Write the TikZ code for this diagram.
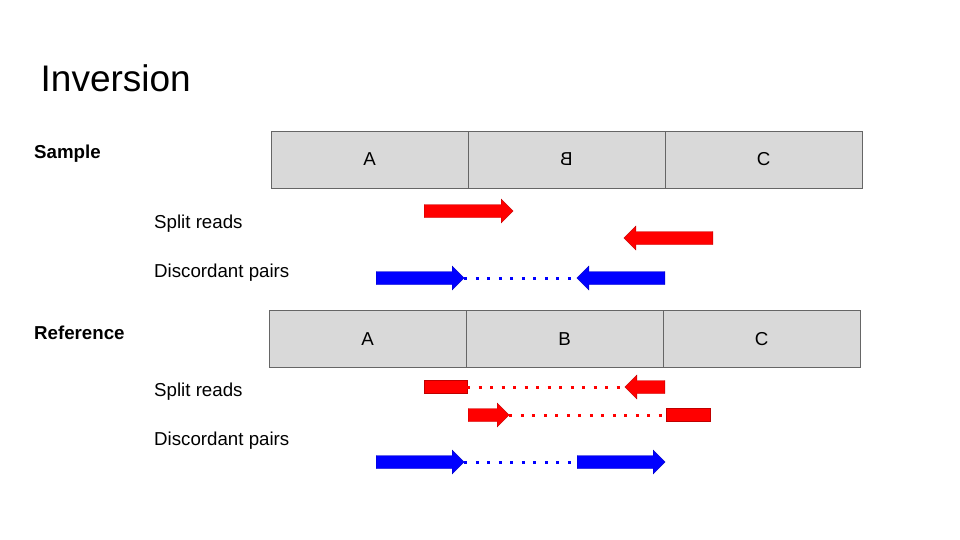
\documentclass[tikz,border=0pt]{standalone}
\usepackage{graphicx}
\usepackage{fontspec}
\setmainfont{Liberation Sans}
\usetikzlibrary{shapes,shapes.arrows}
\tikzset{
    seg/.style={rectangle, draw=black!60, fill=black!15, inner sep=0pt, minimum width=197pt, minimum height=57pt, font=\fontsize{18.7}{22}\selectfont},
    lbl/.style={anchor=base west, inner sep=0pt, font=\fontsize{18.7}{22}\selectfont},
    rd/.style={single arrow, draw=#1!75!black, line width=0.4pt, fill=#1, inner xsep=0pt, inner ysep=6.3pt, single arrow head extend=5.5pt, anchor=tail},
    rdl/.style={rd=#1, shape border rotate=180},
    bar/.style={rectangle, draw=#1!75!black, line width=0.4pt, fill=#1, inner sep=0pt, minimum height=13pt},
    link/.style={#1, line width=3pt, dash pattern=on 3pt off 8.5pt}}

\begin{document}
\begin{tikzpicture}[x=1pt,y=-1pt]
\useasboundingbox[fill=white] (0,0) rectangle (960,540);

\node[anchor=base west, inner sep=0pt, font=\fontsize{37}{44}\selectfont] (title) at (40.5,92) {Inversion};
\node[lbl, font=\fontsize{18.7}{22}\selectfont\bfseries] (sample) at (34,159) {Sample};
\node[lbl, font=\fontsize{18.7}{22}\selectfont\bfseries] (reference) at (34,339) {Reference};
\node[lbl] (ssplit) at (154,228) {Split reads};
\node[lbl] (sdisc) at (154,277) {Discordant pairs};
\node[lbl] (rsplit) at (154,396) {Split reads};
\node[lbl] (rdisc) at (154,445) {Discordant pairs};

% sample
\node[seg] (sA) at (369.5,159.5) {A};
\node[seg] (sB) at (566.5,159.5) {\scalebox{-1}[1]{B}};
\node[seg] (sC) at (763.5,159.5) {C};

\node[rd=red, minimum height=89pt] (s1) at (424,211) {};
\node[rdl=red, minimum height=89pt] (s2) at (713,238) {};

\node[rd=blue, minimum height=88pt] (d1) at (376,278) {};
\node[rdl=blue, minimum height=88pt] (d2) at (665,278) {};
\draw[link=blue] (d1.tip) -- (d2.tip);

% reference
\node[seg] (rA) at (367.5,339) {A};
\node[seg] (rB) at (564.5,339) {B};
\node[seg] (rC) at (761.5,339) {C};

\node[bar=red, minimum width=43pt] (r1) at (445.5,387) {};
\node[rdl=red, minimum height=40pt] (r2) at (665,387) {};
\draw[link=red] (r1.east) -- (r2.tip);

\node[rd=red, minimum height=41pt] (r3) at (468,415) {};
\node[bar=red, minimum width=44pt] (r4) at (688,415) {};
\draw[link=red] (r3.tip) -- (r4.west);

\node[rd=blue, minimum height=88pt] (e1) at (376,462) {};
\node[rd=blue, minimum height=88pt] (e2) at (577,462) {};
\draw[link=blue] (e1.tip) -- (e2.tail);
\end{tikzpicture}
\end{document}
